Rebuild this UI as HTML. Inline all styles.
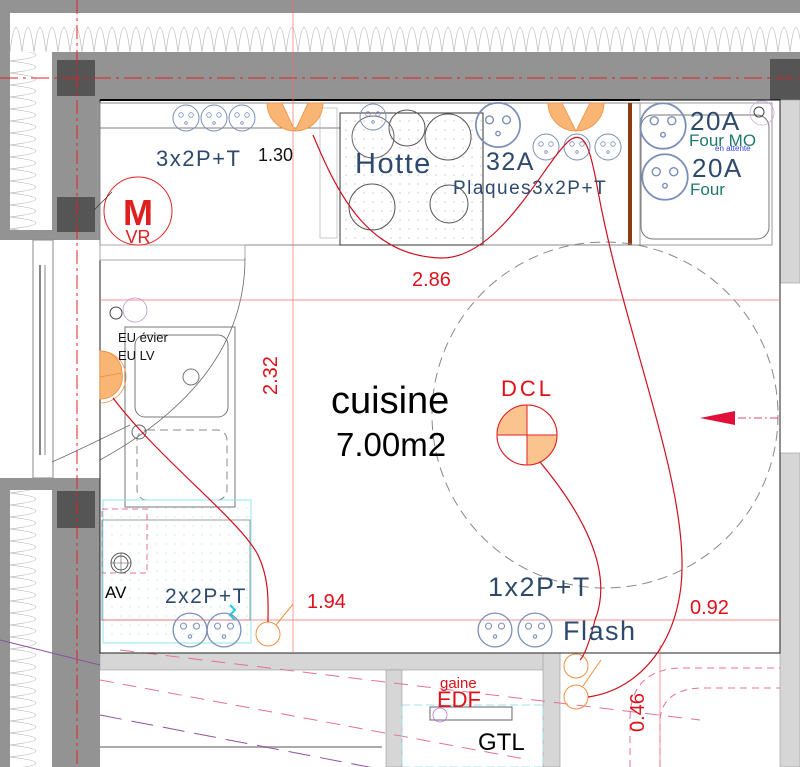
<!DOCTYPE html>
<html><head><meta charset="utf-8"><style>
html,body{margin:0;padding:0;background:#fff;}
svg{display:block;}
text{font-family:"Liberation Sans",sans-serif;}
.bl{fill:#2d4a6c;letter-spacing:1.5px;}
.rd{fill:#e0101a;}
</style></head><body>
<svg width="800" height="767" viewBox="0 0 800 767" xmlns="http://www.w3.org/2000/svg">
<defs>
<pattern id="ins" x="10" y="13" width="12" height="39" patternUnits="userSpaceOnUse">
<path d="M0 39 Q6 -10 12 39" fill="none" stroke="#bbb" stroke-width="0.7"/>
</pattern>
<pattern id="insv" x="10" y="13" width="42" height="12" patternUnits="userSpaceOnUse">
<path d="M0 0 Q52 6 0 12" fill="none" stroke="#bbb" stroke-width="0.7"/>
</pattern>
<pattern id="dots" width="9" height="9" patternUnits="userSpaceOnUse">
<circle cx="4" cy="4" r="0.6" fill="#aaa"/>
</pattern>
<pattern id="cdots" width="9" height="9" patternUnits="userSpaceOnUse">
<circle cx="4" cy="4" r="0.6" fill="#a8dde8"/>
</pattern>
<g id="out"><circle r="13" fill="none" stroke="#7a8fb8" stroke-width="1"/><circle cx="-5" cy="-3" r="2.3" fill="none" stroke="#7a8fb8" stroke-width="0.8"/><circle cx="5" cy="-3" r="2.3" fill="none" stroke="#7a8fb8" stroke-width="0.8"/><circle cx="0" cy="5" r="1.3" fill="none" stroke="#7a8fb8" stroke-width="0.8"/></g>
</defs>

<rect x="0" y="0" width="800" height="13" fill="#939393"/>
<rect x="10" y="13" width="790" height="39" fill="#fff"/>
<rect x="10" y="13" width="790" height="39" fill="url(#ins)"/>
<rect x="0" y="0" width="10" height="240" fill="#939393"/>
<rect x="10" y="52" width="42" height="178" fill="url(#insv)"/>
<rect x="10" y="230" width="90" height="10" fill="#939393"/>
<rect x="52" y="52" width="748" height="48" fill="#939393"/>
<rect x="52" y="52" width="48" height="188" fill="#939393"/>
<rect x="57" y="60" width="38" height="36" fill="#555"/>
<rect x="57" y="197" width="38" height="35" fill="#555"/>
<rect x="770" y="59" width="30" height="41" fill="#555"/>
<line x1="0" y1="78" x2="800" y2="78" stroke="#e02020" stroke-width="1" stroke-dasharray="18,5,3,5"/>

<rect x="33" y="240" width="20" height="238" fill="none" stroke="#888" stroke-width="1"/>
<line x1="40" y1="265" x2="40" y2="455" stroke="#888" stroke-width="2"/>
<line x1="45" y1="265" x2="45" y2="455" stroke="#888" stroke-width="1"/>
<path d="M52 462 Q75 452 130 425" fill="none" stroke="#666" stroke-width="0.8"/>

<rect x="0" y="478" width="100" height="289" fill="#939393"/>
<rect x="10" y="490" width="42" height="277" fill="#fff"/>
<rect x="10" y="490" width="42" height="277" fill="url(#insv)"/>
<rect x="57" y="491" width="38" height="37" fill="#555"/>
<line x1="77" y1="0" x2="77" y2="767" stroke="#e02020" stroke-width="1" stroke-dasharray="14,4,3,4"/>

<rect x="780" y="100" width="20" height="183" fill="#d6d6d6" stroke="#999" stroke-width="0.6"/>
<rect x="780" y="453" width="20" height="314" fill="#d6d6d6" stroke="#999" stroke-width="0.6"/>
<line x1="780" y1="283" x2="780" y2="453" stroke="#888" stroke-width="0.8" stroke-dasharray="6,3"/>

<rect x="100" y="653" width="460" height="17" fill="#d6d6d6" stroke="#999" stroke-width="0.6"/>
<rect x="386" y="670" width="16" height="97" fill="#d6d6d6" stroke="#999" stroke-width="0.6"/>
<rect x="543" y="653" width="17" height="114" fill="#d6d6d6" stroke="#999" stroke-width="0.6"/>
<line x1="560" y1="653" x2="780" y2="653" stroke="#777" stroke-width="1" stroke-dasharray="7,4"/>
<line x1="100" y1="747" x2="382" y2="747" stroke="#aaa" stroke-width="2"/>
<path d="M120 650 L700 720" stroke="#e87090" stroke-width="1" stroke-dasharray="14,9"/>
<path d="M100 680 L530 760" stroke="#e87090" stroke-width="1" stroke-dasharray="14,9"/>
<path d="M100 715 L410 775" stroke="#9050a0" stroke-width="1" stroke-dasharray="22,10"/>
<path d="M0 640 L100 665" stroke="#9050a0" stroke-width="1"/>
<path d="M630 767 L630 720 Q630 670 680 668 L780 668" fill="none" stroke="#e87090" stroke-width="1" stroke-dasharray="7,5"/>
<path d="M660 767 L660 720 Q662 690 700 688 L780 688" fill="none" stroke="#e87090" stroke-width="1" stroke-dasharray="7,5"/>

<rect x="430" y="707" width="82" height="13" fill="#fff" stroke="#666" stroke-width="1"/>
<rect x="402" y="705" width="141" height="62" fill="none" stroke="#a0e0f0" stroke-width="1" stroke-dasharray="8,4"/>
<circle cx="440" cy="715" r="7" fill="none" stroke="#c070e0" stroke-width="0.8"/>

<rect x="100" y="100" width="680" height="553" fill="none" stroke="#222" stroke-width="1"/>
<line x1="100" y1="100" x2="640" y2="100" stroke="#000" stroke-width="2"/>

<rect x="100" y="103" width="540" height="142" fill="none" stroke="#888" stroke-width="1"/>
<line x1="100" y1="128" x2="340" y2="128" stroke="#555" stroke-width="0.7"/>
<rect x="320" y="108" width="17" height="130" fill="none" stroke="#bbb" stroke-width="0.8"/>
<rect x="340" y="113" width="143" height="132" fill="#fff" stroke="#333" stroke-width="1"/>
<rect x="340" y="113" width="143" height="132" fill="url(#dots)"/>
<circle cx="373" cy="137" r="21" fill="none" stroke="#666"/>
<circle cx="407" cy="128" r="18" fill="none" stroke="#555"/>
<circle cx="448" cy="137" r="23" fill="none" stroke="#555"/>
<circle cx="372" cy="207" r="23" fill="none" stroke="#555"/>
<circle cx="449" cy="204" r="19" fill="none" stroke="#555"/>
<rect x="628" y="103" width="4" height="142" fill="#8b3a12"/>
<rect x="640" y="103" width="132" height="142" fill="none" stroke="#999"/>
<rect x="641" y="115" width="128" height="124" rx="12" fill="none" stroke="#777"/>
<line x1="630" y1="100" x2="780" y2="100" stroke="#000" stroke-width="1"/>
<circle cx="759" cy="112" r="5" fill="none" stroke="#444"/>

<rect x="100" y="245" width="145" height="15" fill="none" stroke="#aaa"/>
<path d="M245 258 Q245 380 100 460" fill="none" stroke="#666" stroke-width="0.8"/>
<rect x="125" y="327" width="110" height="180" fill="none" stroke="#777"/>
<rect x="135" y="335" width="93" height="82" rx="10" fill="none" stroke="#777"/>
<circle cx="191" cy="377" r="8" fill="none" stroke="#777"/>
<rect x="137" y="430" width="90" height="70" rx="10" fill="none" stroke="#888" stroke-dasharray="8,5"/>
<circle cx="139" cy="432" r="7" fill="none" stroke="#666"/>
<circle cx="116" cy="313" r="6" fill="none" stroke="#444"/>
<circle cx="135" cy="310" r="12" fill="none" stroke="#c090e0" stroke-width="0.8"/>
<rect x="103" y="500" width="148" height="143" fill="url(#cdots)" stroke="#8ee6f0" stroke-width="1"/>
<rect x="102" y="509" width="45" height="64" fill="none" stroke="#e87090" stroke-dasharray="6,4"/>
<rect x="102" y="520" width="148" height="100" fill="none" stroke="#777" stroke-width="0.7"/>
<circle cx="121" cy="563" r="10" fill="none" stroke="#555"/><circle cx="121" cy="563" r="7" fill="none" stroke="#555"/>
<line x1="111" y1="563" x2="131" y2="563" stroke="#555" stroke-width="0.6"/><line x1="121" y1="553" x2="121" y2="573" stroke="#555" stroke-width="0.6"/>
<path d="M230 605 L235 610 L230 615 L235 620" fill="none" stroke="#20d0e0" stroke-width="2"/>

<line x1="293" y1="0" x2="293" y2="653" stroke="#f07070" stroke-width="0.7"/>
<line x1="100" y1="300" x2="780" y2="300" stroke="#f07070" stroke-width="0.7"/>
<line x1="100" y1="620" x2="780" y2="620" stroke="#f07070" stroke-width="0.7"/>
<line x1="660" y1="645" x2="660" y2="767" stroke="#f07070" stroke-width="0.7"/>

<circle cx="605" cy="415" r="173" fill="none" stroke="#888" stroke-width="1" stroke-dasharray="10,6"/>
<polygon points="700,418 735,411 735,425" fill="#e0103a"/>
<line x1="738" y1="418" x2="778" y2="418" stroke="#e0103a" stroke-width="0.8" stroke-dasharray="8,3,2,3"/>

<g fill="#f8b574" stroke="#f09040" stroke-width="0.8">
<path d="M267 103 A28 28 0 0 0 295 131 L282 103 Z"/><path d="M295 131 A28 28 0 0 0 323 103 L308 103 Z"/>
<path d="M548 103 A28 28 0 0 0 576 131 L562 103 Z"/><path d="M576 131 A28 28 0 0 0 604 103 L590 103 Z"/>
<path d="M100 351 A22 22 0 0 1 122 373 L100 377 Z"/><path d="M122 373 A22 22 0 0 1 100 399 L100 377 Z"/>
</g>
<path d="M100 351 A26 26 0 0 1 100 403" fill="none" stroke="#f09040" stroke-width="0.8"/>

<use href="#out" x="186" y="118"/><use href="#out" x="214" y="118"/><use href="#out" x="242" y="118"/>
<use href="#out" x="373" y="117"/>
<g transform="translate(498,125) scale(1.7)"><use href="#out"/></g>
<use href="#out" x="546" y="147"/><use href="#out" x="577" y="147"/><use href="#out" x="608" y="147"/>
<g transform="translate(663,126) scale(1.75)"><use href="#out"/></g>
<g transform="translate(665,177) scale(1.75)"><use href="#out"/></g>
<circle cx="762" cy="113" r="12" fill="none" stroke="#d0a0e0" stroke-width="0.7"/>
<g transform="translate(190,630) scale(1.3)"><use href="#out"/></g>
<g transform="translate(224,630) scale(1.3)"><use href="#out"/></g>
<g transform="translate(495,630) scale(1.3)"><use href="#out"/></g>
<g transform="translate(535,630) scale(1.3)"><use href="#out"/></g>

<g fill="none" stroke="#f09040" stroke-width="1">
<circle cx="268" cy="634" r="12"/><line x1="276" y1="625" x2="293" y2="604"/>
<circle cx="576" cy="666" r="12"/><circle cx="576" cy="697" r="12"/><line x1="583" y1="686" x2="601" y2="660"/>
</g>

<circle cx="138" cy="211" r="34" fill="none" stroke="#e02020" stroke-width="1"/>
<line x1="94" y1="210" x2="112" y2="192" stroke="#333" stroke-width="0.7"/>

<circle cx="527" cy="435" r="30" fill="#fff" stroke="#e02020" stroke-width="1"/>
<path d="M527 435 L497 435 A30 30 0 0 1 527 405 Z" fill="#fbc48e"/>
<path d="M527 435 L557 435 A30 30 0 0 1 527 465 Z" fill="#fbc48e"/>
<line x1="497" y1="435" x2="557" y2="435" stroke="#e02020"/><line x1="527" y1="405" x2="527" y2="465" stroke="#e02020"/>
<circle cx="527" cy="435" r="30" fill="none" stroke="#e02020" stroke-width="1"/>

<g fill="none" stroke="#d01020" stroke-width="1.2">
<path d="M313 135 C340 200 370 255 440 258 C500 260 545 160 570 140 C585 130 590 150 596 180 C620 320 680 460 682 560 C684 640 640 690 588 697"/>
<path d="M540 462 C580 510 615 570 595 620 C590 640 585 655 580 660"/>
<path d="M113 398 C160 460 240 520 258 555 C270 580 268 605 268 622"/>
</g>

<text x="156" y="166" class="bl" font-size="22">3x2P+T</text>
<text x="258" y="161" font-size="18" fill="#111">1.30</text>
<text x="355" y="173" class="bl" font-size="29" letter-spacing="6">Hotte</text>
<text x="486" y="170" class="bl" font-size="25" letter-spacing="3">32A</text>
<text x="453" y="194" class="bl" font-size="19" letter-spacing="1.3">Plaques3x2P+T</text>
<text x="690" y="130" class="bl" font-size="26">20A</text>
<text x="689" y="146" font-size="17" fill="#207a6a">Four MO</text>
<text x="715" y="151" font-size="8" fill="#3040e0">en attente</text>
<text x="692" y="177" class="bl" font-size="26">20A</text>
<text x="690" y="195" font-size="17" fill="#207a6a">Four</text>
<text x="138" y="225" font-size="36" font-weight="bold" fill="#e02020" text-anchor="middle">M</text>
<text x="138" y="243" font-size="18" fill="#e02020" text-anchor="middle">VR</text>
<text x="412" y="286" font-size="20" class="rd">2.86</text>
<text transform="translate(277,395) rotate(-90)" font-size="20" class="rd">2.32</text>
<text x="118" y="342" font-size="13" fill="#111">EU évier</text>
<text x="118" y="360" font-size="13" fill="#111">EU LV</text>
<text x="331" y="413" font-size="38" fill="#000">cuisine</text>
<text x="336" y="456" font-size="33" fill="#000">7.00m2</text>
<text x="501" y="396" font-size="22" class="rd" letter-spacing="3">DCL</text>
<text x="105" y="598" font-size="17" fill="#000">AV</text>
<text x="165" y="603" class="bl" font-size="21">2x2P+T</text>
<text x="307" y="608" font-size="20" class="rd">1.94</text>
<text x="488" y="596" class="bl" font-size="27" letter-spacing="2.5">1x2P+T</text>
<text x="563" y="640" class="bl" font-size="27" letter-spacing="2.5">Flash</text>
<text x="690" y="614" font-size="20" class="rd">0.92</text>
<text transform="translate(644,732) rotate(-90)" font-size="20" class="rd">0.46</text>
<text x="440" y="688" font-size="15" class="rd">gaine</text>
<text x="437" y="707" font-size="22" class="rd">EDF</text>
<text x="478" y="750" font-size="24" fill="#000">GTL</text>
</svg>
</body></html>
